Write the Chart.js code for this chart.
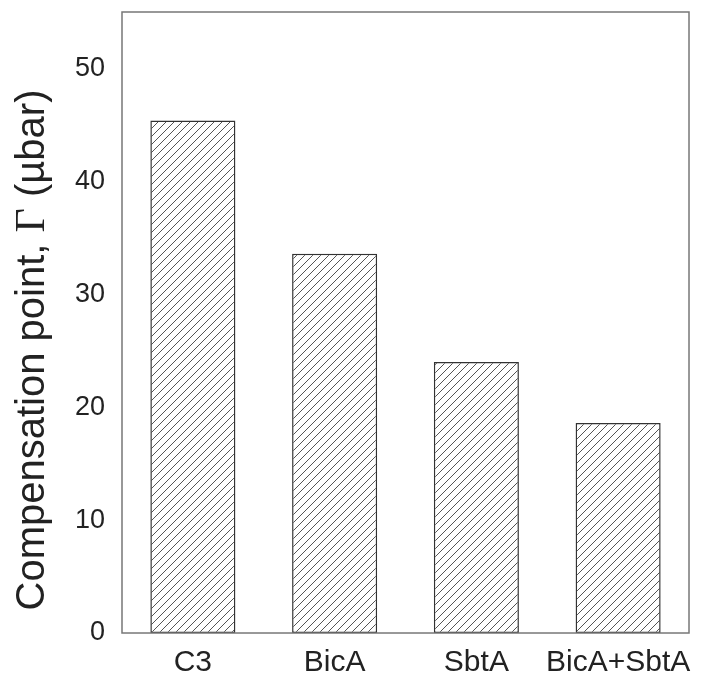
<!DOCTYPE html>
<html>
<head>
<meta charset="utf-8">
<script src="https://cdn.jsdelivr.net/npm/chart.js@4.4.0/dist/chart.umd.min.js"></script>
<style>
  html, body { margin: 0; padding: 0; background: #fff; }
  #wrap { width: 705px; height: 678px; }
</style>
</head>
<body>
<div id="wrap"><canvas id="barChart" width="705" height="678"></canvas></div>
<script>
const categories = ["C3", "BicA", "SbtA", "BicA+SbtA"];
const gammaValues = [45.4, 33.6, 24.0, 18.6];
const yTicks = [0, 10, 20, 30, 40, 50];
const yTitleParts = ["Compensation point, ", "Γ", " (µbar)"];

const SANS = "Liberation Sans, Arial, sans-serif";
const SERIF = "Liberation Serif, Times New Roman, serif";

// patrón de rayado diagonal
function makeHatch() {
  const size = 8;
  const c = document.createElement("canvas");
  c.width = size;
  c.height = size;
  const g = c.getContext("2d");
  g.fillStyle = "#fff";
  g.fillRect(0, 0, size, size);
  g.strokeStyle = "#555";
  g.lineWidth = 1;
  g.beginPath();
  g.moveTo(-1, size + 1);
  g.lineTo(size + 1, -1);
  g.moveTo(-1, 1);
  g.lineTo(1, -1);
  g.moveTo(size - 1, size + 1);
  g.lineTo(size + 1, size - 1);
  g.stroke();
  return g.createPattern(c, "repeat");
}

// marco alrededor del área + título del eje Y (Γ en serif)
const frameBox = {
  id: "frameBox",
  afterDraw(chart) {
    const a = chart.chartArea;
    const ctx = chart.ctx;
    ctx.save();
    ctx.strokeStyle = "#777";
    ctx.lineWidth = 1.5;
    ctx.strokeRect(a.left, a.top, a.right - a.left, a.bottom - a.top);

    const fonts = ["40px " + SANS, "42px " + SERIF, "40px " + SANS];
    let total = 0;
    const widths = yTitleParts.map((t, i) => {
      ctx.font = fonts[i];
      const w = ctx.measureText(t).width;
      total += w;
      return w;
    });
    ctx.translate(33, 350);
    ctx.rotate(-Math.PI / 2);
    ctx.fillStyle = "#222";
    ctx.textBaseline = "middle";
    ctx.textAlign = "left";
    let x = -total / 2;
    yTitleParts.forEach((t, i) => {
      ctx.font = fonts[i];
      ctx.fillText(t, x, 0);
      x += widths[i];
    });
    ctx.restore();
  },
};

const ctx = document.getElementById("barChart").getContext("2d");
new Chart(ctx, {
  type: "bar",
  data: {
    labels: categories,
    datasets: [
      {
        data: gammaValues,
        backgroundColor: makeHatch(),
        borderColor: "#333",
        borderWidth: 1.5,
        borderSkipped: false,
        barPercentage: 0.6,
        categoryPercentage: 1,
      },
    ],
  },
  options: {
    responsive: false,
    animation: false,
    layout: { padding: { top: 12, right: 16, left: 0, bottom: 0 } },
    plugins: {
      legend: { display: false },
      tooltip: { enabled: false },
    },
    scales: {
      x: {
        grid: { display: false, drawTicks: false },
        border: { display: false },
        ticks: {
          color: "#222",
          font: { family: SANS, size: 30 },
          padding: 12,
          maxRotation: 0,
          minRotation: 0,
          autoSkip: false,
        },
        afterFit: (scale) => {
          scale.height = 45;
          scale.paddingLeft = 0;
          scale.paddingRight = 0;
        },
      },
      y: {
        min: 0,
        max: 55,
        afterBuildTicks: (scale) => {
          scale.ticks = yTicks.map((v) => ({ value: v }));
        },
        grid: { display: false, drawTicks: false },
        border: { display: false },
        ticks: {
          color: "#222",
          font: { family: SANS, size: 27 },
          padding: 17,
        },
        afterFit: (scale) => {
          scale.width = 122;
          scale.paddingTop = 0;
          scale.paddingBottom = 0;
        },
      },
    },
  },
  plugins: [frameBox],
});
</script>
</body>
</html>
